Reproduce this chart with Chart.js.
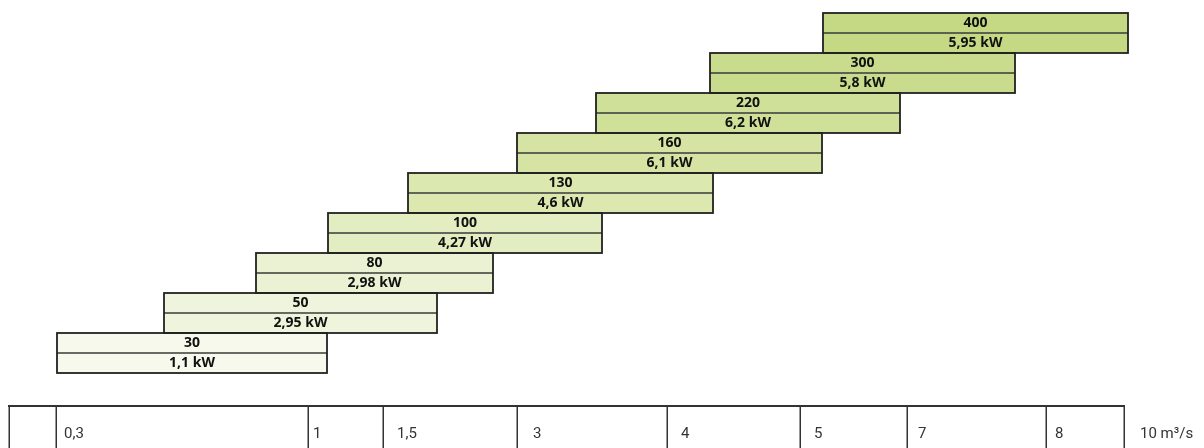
<!DOCTYPE html>
<html><head><meta charset="utf-8">
<script src="https://cdn.jsdelivr.net/npm/chart.js@4.4.1/dist/chart.umd.min.js"></script>
<style>html,body{margin:0;padding:0;background:#fff}canvas{display:block}</style>
</head><body>
<canvas id="c" width="1204" height="448"></canvas>
<script>
// ---- data ----
const categories = ['400','300','220','160','130','100','80','50','30'];
const powerLabels = ['5,95 kW','5,8 kW','6,2 kW','6,1 kW','4,6 kW','4,27 kW','2,98 kW','2,95 kW','1,1 kW'];
const rangeStart = [823,710,596,517,408,328,256,164,57];
const rangeEnd   = [1128,1015,900,822,713,602,493,437,327];
const barColors  = ['#c5d985','#c9dc8d','#cfe098','#d5e4a2','#dbe8b0','#e3edc2','#ebf2d4','#eff5dd','#f6f9ec'];
const tickPositions = [9,56,308,383,517,667,800,907,1046,1124];
const tickLabels = ['','0,3','1','1,5','3','4','5','7','8','10 m³/s'];
const tickLabelPositions = [9,64,313,397,533,681,814,918,1055,1140];

const barDecor = {
  id: 'barDecor',
  afterDatasetsDraw(chart) {
    const ctx = chart.ctx;
    const meta = chart.getDatasetMeta(0);
    meta.data.forEach((el, i) => {
      const p = el.getProps(['x','y','base','height'], true);
      const left = Math.min(p.x, p.base), right = Math.max(p.x, p.base);
      const top = p.y - p.height / 2, bottom = p.y + p.height / 2;
      ctx.save();
      ctx.strokeStyle = '#3a3a3a';
      ctx.lineWidth = 1.3;
      ctx.beginPath();
      ctx.moveTo(left, p.y); ctx.lineTo(right, p.y);
      ctx.stroke();
      ctx.strokeStyle = '#222';
      ctx.lineWidth = 1.8;
      ctx.strokeRect(left, top, right - left, bottom - top);
      ctx.fillStyle = '#111';
      ctx.font = 'bold 14px "Open Sans"';
      ctx.textAlign = 'center';
      ctx.textBaseline = 'middle';
      const cx = (left + right) / 2;
      ctx.fillText(categories[i], cx, p.y - p.height / 4 + 0.5);
      ctx.fillText(powerLabels[i], cx, p.y + p.height / 4 + 0.5);
      ctx.restore();
    });
  }
};

const tableAxis = {
  id: 'tableAxis',
  afterDraw(chart) {
    const ctx = chart.ctx;
    const xs = chart.scales.x;
    const top = chart.chartArea.bottom + 33;
    const bottom = chart.height;
    ctx.save();
    ctx.strokeStyle = '#333';
    ctx.lineWidth = 2;
    ctx.beginPath();
    ctx.moveTo(xs.getPixelForValue(tickPositions[0]) - 1, top);
    ctx.lineTo(xs.getPixelForValue(tickPositions[tickPositions.length - 1]) + 1, top);
    ctx.stroke();
    ctx.lineWidth = 1.5;
    tickPositions.forEach(v => {
      const px = Math.round(xs.getPixelForValue(v)) + 0.25;
      ctx.beginPath();
      ctx.moveTo(px, top);
      ctx.lineTo(px, bottom);
      ctx.stroke();
    });
    ctx.fillStyle = '#333';
    ctx.font = '400 15px Roboto';
    ctx.textAlign = 'left';
    ctx.textBaseline = 'middle';
    tickLabels.forEach((t, i) => {
      if (!t) return;
      ctx.fillText(t, xs.getPixelForValue(tickLabelPositions[i]), top + 28);
    });
    ctx.restore();
  }
};

new Chart(document.getElementById('c'), {
  type: 'bar',
  data: {
    labels: categories,
    datasets: [{
      data: categories.map((c, i) => [rangeStart[i], rangeEnd[i]]),
      backgroundColor: barColors,
      borderWidth: 0,
      barPercentage: 1,
      categoryPercentage: 1
    }]
  },
  options: {
    indexAxis: 'y',
    responsive: false,
    animation: false,
    devicePixelRatio: 1,
    layout: { padding: { top: 13, bottom: 75, left: 0, right: 0 } },
    scales: {
      x: { type: 'linear', min: 0, max: 1204, display: false },
      y: { type: 'category', display: false }
    },
    plugins: { legend: { display: false }, tooltip: { enabled: false } }
  },
  plugins: [barDecor, tableAxis]
});
</script>
</body></html>
